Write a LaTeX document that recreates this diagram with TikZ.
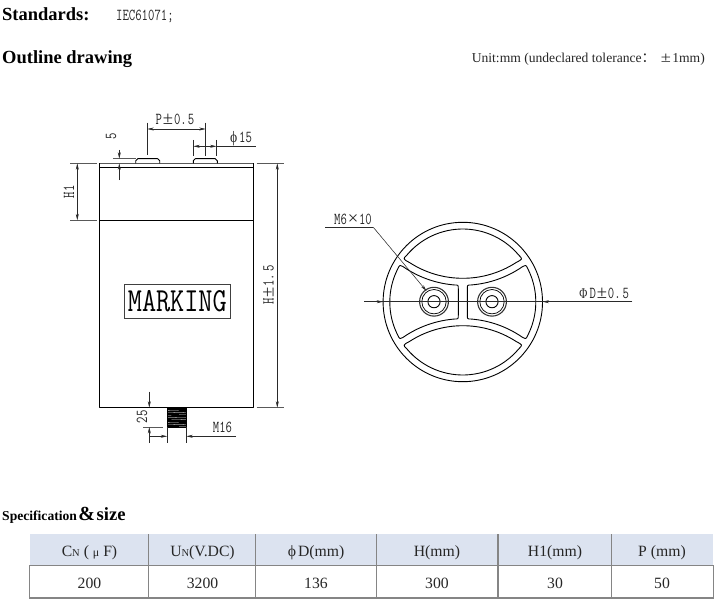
\documentclass[tikz,border=0pt]{standalone}
\usepackage{fontspec}
\usepackage{graphicx}
\setmainfont{Liberation Serif}
\newfontfamily\cjkf{Noto Sans CJK SC}
\usetikzlibrary{arrows.meta}
\definecolor{hdr}{HTML}{DCE3F0}
\definecolor{grid}{HTML}{858585}
\definecolor{dimc}{HTML}{2A2A2A}
\newcommand\dimtxt[1]{\scalebox{1}[1.35]{\fontsize{12.4}{14}\selectfont\ttfamily #1}}
\newcommand\pmw{\makebox[12pt]{\rmfamily\scalebox{1.5}[1.1]{±}}}
\newcommand\smalln{{\fontsize{10.5}{12}\selectfont N}}
\newcommand\lensshape{%
  \draw[body] plot[domain=-140:-40,samples=30]({462.8+73*cos(\x)},{302+73*sin(\x)})
    .. controls (522.8,259) .. ({462.8+98*cos(57)},{180.3+98*sin(57)})
    -- plot[domain=57:123,samples=30]({462.8+98*cos(\x)},{180.3+98*sin(\x)})
    .. controls (402.8,259) .. cycle;}
\newcommand\wingshape{%
  \draw[body] plot[domain=124.8:94.4,samples=20]({462.8+105*cos(\x)},{180.3+105*sin(\x)})
    .. controls (458.3,285) .. (458.3,289) -- (458.3,315) .. controls (458.3,319) ..
    ({462.8+105*cos(-94.4)},{423.7+105*sin(-94.4)})
    -- plot[domain=-94.4:-124.8,samples=20]({462.8+105*cos(\x)},{423.7+105*sin(\x)})
    .. controls (399.5,339) .. ({462.8+73*cos(153)},{302+73*sin(153)})
    -- plot[domain=153:207,samples=20]({462.8+73*cos(\x)},{302+73*sin(\x)})
    .. controls (399.5,265) .. cycle;}
\tikzset{
  body/.style={draw=black,line width=0.9pt,line join=round},
  thinl/.style={draw=dimc,line width=0.55pt},
  extl/.style={draw=black!65,line width=0.7pt},
  arr/.style={thinl,-{Stealth[length=6.5pt,width=3pt]}},
  arrb/.style={thinl,{Stealth[length=6.5pt,width=3pt]}-{Stealth[length=6.5pt,width=3pt]}},
  lbl/.style={inner sep=0pt,anchor=base,text=black!85},
  rlbl/.style={inner sep=0pt,anchor=base,rotate=90,text=black!85},
  head/.style={inner sep=0pt,anchor=base west,font=\bfseries\fontsize{18.5}{20}\selectfont},
  cell/.style={inner sep=0pt,anchor=base,font=\fontsize{15.7}{18}\selectfont,text=black!85},
  grl/.style={draw=grid,line width=1.1pt},
}
\begin{document}
\begin{tikzpicture}[x=1pt,y=-1pt]
\useasboundingbox (0,0) rectangle (719,604);
% headings
\node[head] (std) at (2,20.7) {Standards:};
\node[inner sep=0pt,anchor=base west,text=black!85] (iec) at (116,20.7) {\dimtxt{IEC61071;}};
\node[head] (outl) at (2,63.3) {Outline drawing};
\node[inner sep=0pt,anchor=base east,font=\fontsize{13.6}{15}\selectfont,text=black!85] (unit) at (705,62.7) {Unit:mm (undeclared tolerance{\cjkf：}\hspace{4pt}\makebox[13pt]{\scalebox{1.35}[1.1]{±}}1mm)};
% side view: body
\draw[extl,line width=0.9pt] (99.3,163.3) -- (253.3,163.3);
\draw[body] (99.3,163.3) -- (99.3,407.7) -- (253.3,407.7) -- (253.3,163.3);
\draw[body] (99.3,167.7) -- (253.3,167.7);
\draw[body] (99.3,220.3) -- (253.3,220.3);
% terminals
\draw[body] (135.7,163.3) -- (135.7,160.7) -- (137.7,158.7) -- (157.7,158.7) -- (159.7,160.7) -- (159.7,163.3);
\draw[body] (193.3,163.3) -- (193.3,160.7) -- (195.3,158.7) -- (215.3,158.7) -- (217.3,160.7) -- (217.3,163.3);
% stud
\draw[body] (167.2,407.7) -- (167.2,427) -- (186.3,427) -- (186.3,407.7);
\foreach \yy in {409.2,411.6,...,426.2} \draw[black,line width=2.1pt] (167.6,\yy) -- (186,\yy-0.5);
% marking
\node[draw=black!75,line width=0.8pt,minimum width=106.7pt,minimum height=34.4pt,inner sep=0pt] (mk) at (177.3,301.5) {\scalebox{1}[1.23]{\fontsize{27.4}{30}\selectfont\ttfamily MARKING}};
% P dimension
\draw[thinl] (147.3,122.7) -- (147.3,155);
\draw[thinl] (205.7,122.7) -- (205.7,156);
\draw[arrb] (147.3,129) -- (205.7,129);
\node[lbl] (pd) at (175,125) {\dimtxt{P\pmw 0.\kern-1pt\,5}};
% phi 15
\draw[thinl] (193.3,140) -- (193.3,156);
\draw[thinl] (216.6,140) -- (216.6,156);
\draw[arr] (205,146.3) -- (193.3,146.3);
\draw[arr] (205,146.3) -- (216.6,146.3);
\draw[thinl] (216.6,146.3) -- (255.7,146.3);
\node[lbl] (ph) at (240,142.7) {\dimtxt{\makebox[11pt]{\rmfamily\scalebox{1.1}[0.95]{ϕ}}15}};
% 5
\draw[extl] (113,158.7) -- (135.7,158.7);
\draw[arr] (119.3,150) -- (119.3,158.7);
\draw[arr] (119.3,180) -- (119.3,163.3);
\node[rlbl] (five) at (116,136.7) {\dimtxt{5}};
% H1
\draw[extl] (70,163.3) -- (96.6,163.3);
\draw[extl] (70,220.3) -- (96.6,220.3);
\draw[arrb] (77.3,163.3) -- (77.3,220.3);
\node[rlbl] (hone) at (74,191.7) {\dimtxt{H1}};
% H
\draw[extl] (256.5,163.3) -- (284,163.3);
\draw[extl] (256.5,407.7) -- (284,407.7);
\draw[arrb] (277.3,163.3) -- (277.3,407.7);
\node[rlbl] (hh) at (273.5,285) {\dimtxt{H\pmw 1.\,5}};
% 25
\draw[extl] (143,427) -- (163,427);
\draw[arr] (149.3,391.7) -- (149.3,407.7);
\draw[arr] (149.3,443) -- (149.3,427);
\node[rlbl] (tf) at (147,416.7) {\dimtxt{25}};
% M16
\draw[thinl] (167.2,427) -- (167.2,443.3);
\draw[thinl] (186.3,427) -- (186.3,443.3);
\draw[arr] (149.3,436.3) -- (167.2,436.3);
\draw[arr] (236,436.3) -- (186.3,436.3);
\node[lbl] (ms) at (222.5,432.3) {\dimtxt{M16}};
% end view
\draw[body] (462.8,302) circle[radius=79.7pt];
\lensshape
\begin{scope}[shift={(0,604)},yscale=-1]\lensshape\end{scope}
\wingshape
\begin{scope}[shift={(925.6,0)},xscale=-1]\wingshape\end{scope}
\foreach \cx in {434,492}{
  \draw[body,line width=1.1pt,draw=black!80] (\cx,301.7) circle[radius=14.4pt];
  \draw[body,line width=0.7pt] (\cx,301.7) circle[radius=12.2pt];
  \draw[body] (\cx,301.7) circle[radius=6.1pt];
}
% M6x10 leader
\draw[thinl] (325,227.3) -- (373.3,227.3);
\draw[arr] (373.3,227.3) -- (426.5,291);
\node[lbl] (msx) at (353,224.3) {\dimtxt{M6\makebox[12pt]{\rmfamily\scalebox{1.5}[1.1]{×}}10}};
% phi D
\draw[thinl] (364,301.7) -- (632.3,301.7);
\draw[arr] (364,301.7) -- (383.1,301.7);
\draw[arr] (632.3,301.7) -- (542.5,301.7);
\node[lbl] (pD) at (603.3,298.3) {\dimtxt{\makebox[12pt]{\rmfamily\fontsize{11}{13}\selectfont Φ}D\pmw 0.\,5}};
% spec heading
\node[inner sep=0pt,anchor=base west] (spec) at (2,520.5) {\bfseries\fontsize{13.6}{15}\selectfont Specification\hspace{1.5pt}{\fontsize{20}{22}\selectfont\&}\hspace{1.5pt}{\fontsize{18.6}{20}\selectfont size}};
% table
\fill[hdr] (29.5,534.3) rectangle (713.3,565.7);
\draw[grl] (29.5,565.7) rectangle (713.3,598);
\foreach \cx in {148.7,255.7,376.3,498,611.7} \draw[grl] (\cx,534.3) -- (\cx,598);
\node[cell] (h1) at (89.5,556) {C\smalln\ ( {\fontsize{12}{14}\selectfont μ} F)};
\node[cell] (h2) at (202.5,556) {U\smalln(V.DC)};
\node[cell] (h3) at (316,556) {{\fontsize{15.7}{14}\selectfont ϕ}\hspace{2pt}D(mm)};
\node[cell] (h4) at (437,556) {H(mm)};
\node[cell] (h5) at (555,556) {H1(mm)};
\node[cell] (h6) at (662,556) {P (mm)};
\node[cell] (v1) at (89.5,588.3) {200};
\node[cell] (v2) at (202.5,588.3) {3200};
\node[cell] (v3) at (316,588.3) {136};
\node[cell] (v4) at (437,588.3) {300};
\node[cell] (v5) at (555,588.3) {30};
\node[cell] (v6) at (662,588.3) {50};
\end{tikzpicture}
\end{document}
